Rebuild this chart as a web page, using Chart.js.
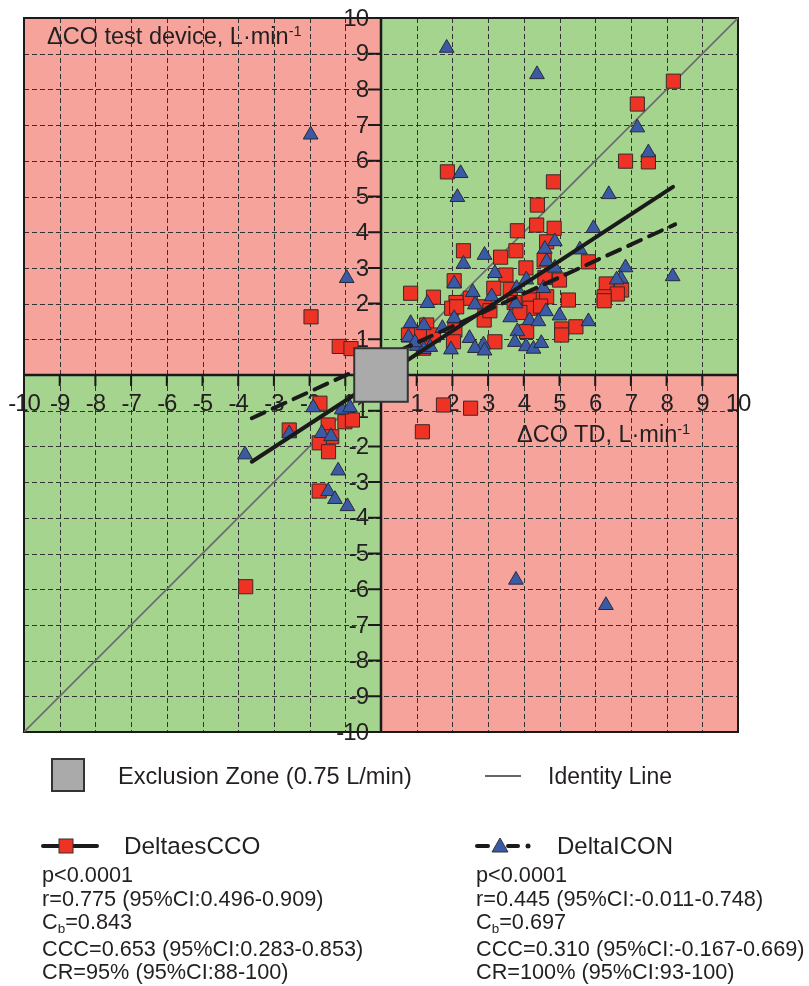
<!DOCTYPE html>
<html>
<head>
<meta charset="utf-8">
<title>Concordance plot</title>
<script src="https://cdn.jsdelivr.net/npm/chart.js@4.4.0/dist/chart.umd.min.js"></script>
<style>
  html, body { margin: 0; padding: 0; background: #fff; }
  #wrap { position: relative; width: 809px; height: 986px; font-family: "Liberation Sans", Arial, sans-serif; color: #231f20; }
  #chart { position: absolute; left: 0; top: 0; }
  .t { position: absolute; white-space: nowrap; line-height: 1; }
  .sup { font-size: 0.62em; position: relative; top: -0.55em; }
  .sub { font-size: 0.62em; position: relative; top: 0.3em; }
  .stats { position: absolute; font-size: 21.7px; line-height: 23.5px; white-space: nowrap; }
</style>
</head>
<body>
<div id="wrap">
  <canvas id="chart" width="809" height="986"></canvas>

  <div class="t" style="left:47px; top:25px; font-size:23.5px;">ΔCO test device, L·min<span class="sup">-1</span></div>
  <div class="t" style="left:517px; top:423px; font-size:23.5px;">ΔCO TD, L·min<span class="sup">-1</span></div>

  <!-- legend row 1 -->
  <div style="position:absolute; left:51px; top:758px; width:34px; height:34px; box-sizing:border-box; border:2px solid #333; background:#aaaaaa;"></div>
  <div class="t" style="left:118px; top:765px; font-size:23.6px;">Exclusion Zone (0.75 L/min)</div>
  <svg style="position:absolute; left:480px; top:770px;" width="45" height="12"><line x1="5" y1="6" x2="41" y2="6" stroke="#666" stroke-width="2"/></svg>
  <div class="t" style="left:548px; top:765px; font-size:23px;">Identity Line</div>

  <!-- legend row 2 -->
  <svg style="position:absolute; left:38px; top:834px;" width="64" height="24">
    <line x1="5" y1="12" x2="59" y2="12" stroke="#1a1a1a" stroke-width="4" stroke-linecap="round"/>
    <rect x="21" y="5" width="14" height="14" fill="#ee3224" stroke="#333" stroke-width="1"/>
  </svg>
  <div class="t" style="left:124px; top:834px; font-size:24.3px;">DeltaesCCO</div>
  <svg style="position:absolute; left:472px; top:834px;" width="64" height="24">
    <line x1="5" y1="12" x2="16" y2="12" stroke="#1a1a1a" stroke-width="4" stroke-linecap="round"/>
    <line x1="36" y1="12" x2="46" y2="12" stroke="#1a1a1a" stroke-width="4" stroke-linecap="round"/>
    <circle cx="56" cy="12" r="2.5" fill="#1a1a1a"/>
    <polygon points="28,4 36,18 20,18" fill="#3b5aa6" stroke="#333" stroke-width="1"/>
  </svg>
  <div class="t" style="left:557px; top:834px; font-size:24px;">DeltaICON</div>

  <div class="stats" style="left:42px; top:863px;">
    p&lt;0.0001<br>r=0.775 (95%CI:0.496-0.909)<br>C<span class="sub">b</span>=0.843<br>CCC=0.653 (95%CI:0.283-0.853)<br>CR=95% (95%CI:88-100)
  </div>
  <div class="stats" style="left:476px; top:863px;">
    p&lt;0.0001<br>r=0.445 (95%CI:-0.011-0.748)<br>C<span class="sub">b</span>=0.697<br>CCC=0.310 (95%CI:-0.167-0.669)<br>CR=100% (95%CI:93-100)
  </div>
</div>

<script>
// ----------------- Data -----------------
const tickValues = [-10, -9, -8, -7, -6, -5, -4, -3, -2, -1, 0, 1, 2, 3, 4, 5, 6, 7, 8, 9, 10];
const exclusionLimit = 0.75;

// DeltaesCCO (red squares)
const esccoX = [8.19, 7.18, 7.49, 6.85, 1.86, 4.83, 4.38, 4.36, 4.85, 3.82, 4.64, 2.31, 3.78, 3.35, 4.57, 5.81,
    4.06, 3.50, 2.05, 4.59, 5.00, 6.31, 6.74, 6.62, 6.25, 6.25, 0.83, 1.47, 3.16, 3.62, 4.38, 4.64,
    2.50, 2.10, 5.25, 3.73, 4.15, 4.17, 4.47, 1.98, 3.89, 2.89, 1.28, 5.06, 5.06, 5.46, 4.08, 2.07,
    0.77, 1.14, 1.47, 2.03, 3.19, 1.19, 2.91, 2.12, 3.05,
    -1.96, -1.17, -0.84, 1.75, 2.51, 1.16,
    -1.71, -1.01, -0.80, -2.57, -1.48, -1.38, -1.73, -1.47, -1.73, -3.79];
const esccoY = [8.23, 7.59, 5.97, 5.99, 5.69, 5.41, 4.76, 4.20, 4.11, 4.04, 3.73, 3.48, 3.48, 3.30, 3.22, 3.17,
    3.00, 2.80, 2.64, 2.73, 2.66, 2.55, 2.38, 2.27, 2.19, 2.08, 2.29, 2.18, 2.43, 2.40, 2.21, 2.19,
    2.15, 2.03, 2.10, 2.03, 2.10, 1.87, 1.93, 1.87, 1.75, 1.54, 1.40, 1.29, 1.12, 1.35, 1.22, 1.26,
    1.12, 1.17, 1.12, 0.93, 0.93, 0.75, 1.91, 1.91, 1.80,
    1.63, 0.80, 0.74, -0.84, -0.93, -1.59,
    -0.79, -1.31, -1.26, -1.54, -1.40, -1.73, -1.90, -2.15, -3.25, -5.93];

// DeltaICON (blue triangles)
const iconX = [1.84, 4.37, 7.18, 7.49, 2.23, 2.14, 6.38, 5.95, 4.87, 4.59, 2.90, 5.57, 2.31, 4.64, 4.87, 6.85,
    3.19, 8.17, 6.72, 2.05, 4.07, 1.30, 2.57, 3.80, 4.55, 3.10, 2.63, 3.77, 3.62, 4.62, 5.00, 2.05,
    1.20, 0.83, 1.72, 4.16, 4.41, 5.81, 3.82, 0.77, 2.48, 2.87, 2.63, 1.96, 3.75, 4.06, 4.27, 4.49,
    2.90, 1.00, 1.20, 1.38, 0.95, 6.60,
    -1.97, -0.96,
    -1.90, -1.10, -0.87, -2.57, -1.66, -1.40, -3.81, -1.20, -1.48, -1.29, -0.94,
    3.78, 6.30];
const iconY = [9.16, 8.42, 6.93, 6.23, 5.65, 4.98, 5.06, 4.11, 3.74, 3.53, 3.36, 3.51, 3.11, 3.18, 3.00, 3.01,
    2.85, 2.76, 2.70, 2.56, 2.67, 2.01, 2.32, 2.43, 2.43, 2.20, 1.97, 2.00, 1.61, 1.78, 1.66, 1.59,
    1.39, 1.45, 1.31, 1.53, 1.50, 1.50, 1.22, 1.06, 1.03, 0.85, 0.75, 0.71, 0.92, 0.80, 0.73, 0.89,
    0.68, 0.81, 0.72, 0.78, 0.91, 2.67,
    6.73, 2.71,
    -0.91, -0.97, -0.91, -1.64, -1.63, -1.72, -2.23, -2.68, -3.26, -3.48, -3.68,
    -5.74, -6.45];

// fitted lines (end points)
const esccoFitX = [-3.62, 8.18];
const esccoFitY = [-2.43, 5.27];
const iconFitX = [-3.62, 8.24];
const iconFitY = [-1.21, 4.22];
const identityX = [-10, 10];
const identityY = [-10, 10];

const PINK = '#f5a39b';
const GREEN = '#a5d48f';

const toPoints = (xs, ys) => xs.map((v, i) => ({ x: v, y: ys[i] }));

// ----------------- Background, grid, axes -----------------
const quadrantPlugin = {
    id: 'quadrants',
    beforeDatasetsDraw(chart) {
        const { ctx, chartArea: a, scales: { x, y } } = chart;
        const x0 = x.getPixelForValue(0);
        const y0 = y.getPixelForValue(0);
        ctx.save();

        ctx.fillStyle = PINK;
        ctx.fillRect(a.left, a.top, x0 - a.left, y0 - a.top);
        ctx.fillRect(x0, y0, a.right - x0, a.bottom - y0);
        ctx.fillStyle = GREEN;
        ctx.fillRect(x0, a.top, a.right - x0, y0 - a.top);
        ctx.fillRect(a.left, y0, x0 - a.left, a.bottom - y0);

        // dashed grid
        ctx.strokeStyle = '#333333';
        ctx.lineWidth = 1;
        ctx.setLineDash([5, 3]);
        tickValues.forEach(v => {
            if (v === 0 || Math.abs(v) === 10) return;
            const px = Math.round(x.getPixelForValue(v)) + 0.5;
            const py = Math.round(y.getPixelForValue(v)) + 0.5;
            ctx.beginPath();
            ctx.moveTo(px, a.top); ctx.lineTo(px, a.bottom);
            ctx.moveTo(a.left, py); ctx.lineTo(a.right, py);
            ctx.stroke();
        });
        ctx.setLineDash([]);

        // border + zero axes
        ctx.strokeStyle = '#1a1a1a';
        ctx.lineWidth = 2;
        ctx.strokeRect(a.left, a.top, a.right - a.left, a.bottom - a.top);
        ctx.lineWidth = 2.5;
        ctx.beginPath();
        ctx.moveTo(x0, a.top); ctx.lineTo(x0, a.bottom);
        ctx.moveTo(a.left, y0); ctx.lineTo(a.right, y0);
        ctx.stroke();

        // tick marks
        ctx.lineWidth = 2;
        tickValues.forEach(v => {
            if (v === 0) return;
            const px = x.getPixelForValue(v);
            const py = y.getPixelForValue(v);
            ctx.beginPath();
            ctx.moveTo(px, y0); ctx.lineTo(px, y0 + 11);
            ctx.moveTo(x0 - 13, py); ctx.lineTo(x0, py);
            ctx.stroke();
        });

        // tick labels
        ctx.fillStyle = '#231f20';
        ctx.font = '24px "Liberation Sans", Arial, sans-serif';
        ctx.letterSpacing = '-1px';
        ctx.textBaseline = 'middle';
        tickValues.forEach(v => {
            if (v === 0) return;
            ctx.textAlign = 'center';
            ctx.fillText(String(v), x.getPixelForValue(v), y0 + 29);
            ctx.textAlign = 'right';
            ctx.fillText(String(v), x0 - 13, y.getPixelForValue(v) + 1);
        });
        ctx.restore();
    },
    afterDatasetsDraw(chart) {
        // exclusion zone square on top
        const { ctx, scales: { x, y } } = chart;
        const l = x.getPixelForValue(-exclusionLimit);
        const r = x.getPixelForValue(exclusionLimit);
        const t = y.getPixelForValue(exclusionLimit);
        const b = y.getPixelForValue(-exclusionLimit);
        ctx.save();
        ctx.fillStyle = '#aaaaaa';
        ctx.strokeStyle = '#333';
        ctx.lineWidth = 2;
        ctx.fillRect(l, t, r - l, b - t);
        ctx.strokeRect(l, t, r - l, b - t);
        ctx.restore();
    }
};

// ----------------- Chart -----------------
const ctx = document.getElementById('chart').getContext('2d');
const concordanceChart = new Chart(ctx, {
    type: 'scatter',
    data: {
        datasets: [
            {
                label: 'Identity Line',
                data: toPoints(identityX, identityY),
                showLine: true,
                borderColor: '#6b6b6b',
                borderWidth: 1.6,
                pointRadius: 0,
                order: 10
            },
            {
                label: 'DeltaesCCO',
                data: toPoints(esccoX, esccoY),
                pointStyle: 'rect',
                pointRadius: 10,
                backgroundColor: '#ee3224',
                borderColor: '#3a2a2a',
                borderWidth: 1,
                order: 4
            },
            {
                label: 'DeltaICON',
                data: toPoints(iconX, iconY),
                pointStyle: 'triangle',
                pointRadius: 8.5,
                backgroundColor: '#3b5aa6',
                borderColor: '#2a2a3a',
                borderWidth: 1,
                order: 3
            },
            {
                label: 'DeltaesCCO fit',
                data: toPoints(esccoFitX, esccoFitY),
                showLine: true,
                borderColor: '#1a1a1a',
                borderWidth: 4,
                borderCapStyle: 'round',
                pointRadius: 0,
                order: 2
            },
            {
                label: 'DeltaICON fit',
                data: toPoints(iconFitX, iconFitY),
                showLine: true,
                borderColor: '#1a1a1a',
                borderWidth: 4,
                borderDash: [14, 9],
                borderCapStyle: 'round',
                pointRadius: 0,
                order: 1
            }
        ]
    },
    options: {
        responsive: false,
        animation: false,
        layout: { padding: { left: 24, top: 18, right: 71, bottom: 254 } },
        plugins: {
            legend: { display: false },
            tooltip: { enabled: false }
        },
        scales: {
            x: { type: 'linear', min: -10, max: 10, display: false },
            y: { type: 'linear', min: -10, max: 10, display: false }
        }
    },
    plugins: [quadrantPlugin]
});
</script>
</body>
</html>
